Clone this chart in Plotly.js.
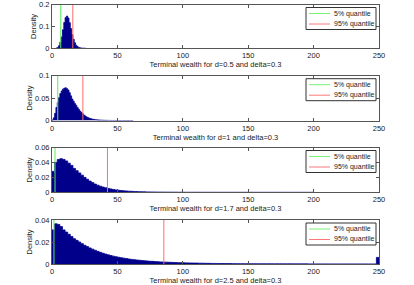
<!DOCTYPE html>
<html>
<head>
<meta charset="utf-8">
<script src="https://cdn.plot.ly/plotly-3.0.1.min.js"></script>
<style>html,body{margin:0;padding:0;background:#fff}#chart{width:414px;height:285px}</style>
</head>
<body>
<div id="chart"></div>
<script>
// ---- data ----
var xTitles = ["Terminal wealth for d=0.5 and delta=0.3","Terminal wealth for d=1 and delta=0.3","Terminal wealth for d=1.7 and delta=0.3","Terminal wealth for d=2.5 and delta=0.3"];
var legendLabels = ["5% quantile", "95% quantile"];
var xTicks = [0, 50, 100, 150, 200, 250];
var yTicks1 = [0, 0.1, 0.2];
var yTicks2 = [0, 0.05, 0.1];
var yTicks3 = [0, 0.02, 0.04, 0.06];
var yTicks4 = [0, 0.02, 0.04];

var q05 = [6.7, 4.4, 2.3, 1.5];
var q95 = [15.9, 23.6, 42.4, 85.5];

// histogram bins: first bin start and bin width
var binStart = [3, 0, 0, 0];
var binWidth = [1, 1, 2, 2];

var dens1 = [0.001,0.004,0.012,0.028,0.052,0.085,0.118,0.140,0.147,0.138,0.117,0.090,0.063,0.041,0.025,0.014,0.008,0.004,0.002,0.001,0.0006,0.0003,0.0001];

var dens2 = [0.001,0.006,0.016,0.029,0.040,0.051,0.060,0.066,0.070,0.072,0.073,0.071,0.068,0.062,0.055,0.048,0.043,0.038,0.034,0.029,0.025,0.021,0.018,0.015,0.012,0.010,0.008,0.0065,0.0052,0.0042,0.0034,0.0027,0.0022,0.0018,0.0014,0.0012,0.001,0.0008,0.00065,0.0005,0.0004,0.0003,0.00025,0.0002,0.00015,0.00012,0.0001,0.00008,0.00006,0.00005,0.00004,0.00004,0.00003,0.00003,0.00002,0.00002,0.00002,0.00001,0.00001,0.00001,0.00001,0.00001];

var dens3 = [0.028,0.040,0.044,0.045,0.044,0.042,0.039,0.036,0.032,0.029,0.026,0.023,0.020,0.0175,0.015,0.013,0.011,0.0095,0.0082,0.007,0.006,0.0052,0.0045,0.0038,0.0032,0.0027,0.0023,0.002,0.0017,0.0015,0.0013,0.0011,0.00095,0.0008,0.0007,0.0006,0.0005,0.00045,0.0004,0.00035,0.0003,0.00027,0.00024,0.0002,0.00018,0.00016,0.00014,0.00012,0.0001,0.00009,0.00008,0.00007,0.00006,0.00006,0.00005,0.00005,0.00004,0.00004,0.00003,0.00003,0.00003,0.00002,0.00002,0.00002,0.00002,0.00002,0.00001,0.00001,0.00001,0.00001,0.00001,0.00001,0.00001,0.00001,0.00001,0,0.00001,0,0.00001,0,0,0.00001,0,0,0.00001,0,0,0,0.00001,0,0,0,0,0.00001,0,0,0,0,0,0.00001];

var dens4 = [0.031,0.0365,0.036,0.034,0.031,0.029,0.027,0.025,0.023,0.0215,0.020,0.0185,0.017,0.0158,0.0146,0.0135,0.0125,0.0115,0.0106,0.0098,0.009,0.0083,0.0077,0.0071,0.0066,0.0061,0.0057,0.0053,0.0049,0.0045,0.0042,0.0039,0.0036,0.0034,0.0031,0.0029,0.0027,0.0025,0.0024,0.0022,0.0021,0.0019,0.0018,0.0017,0.0016,0.0015,0.0014,0.0013,0.0012,0.0012,0.0011,0.001,0.00095,0.0009,0.00085,0.0008,0.00075,0.0007,0.00065,0.0006,0.00057,0.00054,0.0005,0.00047,0.00044,0.00042,0.0004,0.00038,0.00036,0.00034,0.00032,0.0003,0.00029,0.00028,0.00027,0.00026,0.00025,0.00024,0.00023,0.00022,0.00021,0.0002,0.0002,0.00019,0.00018,0.00018,0.00017,0.00016,0.00016,0.00015,0.00015,0.00014,0.00014,0.00013,0.00013,0.00012,0.00012,0.00012,0.00011,0.00011,0.00011,0.0001,0.0001,0.0001,0.0001,0.00009,0.00009,0.00009,0.00009,0.00008,0.00008,0.00008,0.00008,0.00008,0.00007,0.00007,0.00007,0.00007,0.00007,0.00007,0.00006,0.00006,0.00006,0.00006,0.006];

var densities = [dens1, dens2, dens3, dens4];
var yTickSets = [yTicks1, yTicks2, yTicks3, yTicks4];

// ---- layout geometry (pixels) ----
var W = 414, H = 285;
var plotLeft = 52, plotRight = 379;
var tops = [4.5, 75.7, 147.5, 220];
var bottoms = [48.3, 120.5, 192.3, 264];

var FONT = "Liberation Sans, Arial, sans-serif";
var traces = [];
var layout = {
  width: W, height: H,
  margin: {l: 0, r: 0, t: 0, b: 0},
  paper_bgcolor: "#fff", plot_bgcolor: "#fff",
  font: {family: FONT, size: 7.5, color: "#222"},
  showlegend: false,
  shapes: [], annotations: []
};

function px2x(p) { return p / W; }
function py2y(p) { return 1 - p / H; }

for (var i = 0; i < 4; i++) {
  var n = i + 1;
  var xa = "x" + (n === 1 ? "" : n), ya = "y" + (n === 1 ? "" : n);
  var yTicks = yTickSets[i];
  var ymax = yTicks[yTicks.length - 1];
  var d = densities[i];
  // histogram drawn as a filled step outline: bin edges with matching densities
  var edges = [], steps = [];
  for (var k = 0; k <= d.length; k++) {
    edges.push(binStart[i] + binWidth[i] * k);
    steps.push(k < d.length ? d[k] : d[d.length - 1]);
  }
  edges.unshift(binStart[i]); steps.unshift(0);
  edges.push(edges[edges.length - 1]); steps.push(0);

  traces.push({
    type: "scatter", mode: "lines", x: edges, y: steps,
    line: {shape: "hv", color: "#00008b", width: 0.8},
    fill: "tozeroy", fillcolor: "#00008b",
    xaxis: xa, yaxis: ya, hoverinfo: "skip", showlegend: false
  });
  traces.push({
    type: "scatter", mode: "lines", x: [q05[i], q05[i]], y: [0, ymax],
    xaxis: xa, yaxis: ya, line: {color: "rgb(90,235,90)", width: 1},
    hoverinfo: "skip", showlegend: false
  });
  traces.push({
    type: "scatter", mode: "lines", x: [q95[i], q95[i]], y: [0, ymax],
    xaxis: xa, yaxis: ya, line: {color: "rgb(255,110,110)", width: 1},
    hoverinfo: "skip", showlegend: false
  });

  var axCommon = {
    showline: true, linecolor: "#555", linewidth: 1, mirror: "ticks",
    ticks: "inside", ticklen: 3, tickwidth: 1, tickcolor: "#555",
    showgrid: false, zeroline: false,
    tickfont: {family: FONT, size: 7.5, color: "#222"}
  };
  layout["xaxis" + (n === 1 ? "" : n)] = Object.assign({}, axCommon, {
    domain: [px2x(plotLeft), px2x(plotRight)], anchor: ya,
    range: [0, 250], tickvals: xTicks, ticktext: xTicks.map(String),
    title: {text: xTitles[i], font: {family: FONT, size: 7.5, color: "#222"}, standoff: 2}
  });
  layout["yaxis" + (n === 1 ? "" : n)] = Object.assign({}, axCommon, {
    domain: [py2y(bottoms[i]), py2y(tops[i])], anchor: xa,
    range: [0, ymax], tickvals: yTicks, ticktext: yTicks.map(String),
    title: {text: "Density", font: {family: FONT, size: 7.5, color: "#222"}, standoff: 1}
  });

  // custom legend box
  var t = tops[i];
  layout.shapes.push({type: "rect", xref: "paper", yref: "paper",
    x0: px2x(306), x1: px2x(376), y0: py2y(t + 3), y1: py2y(t + 25),
    line: {color: "#333", width: 1}, fillcolor: "#fff", layer: "above"});
  var lineCols = ["rgb(120,240,120)", "rgb(255,120,120)"];
  var lineYs = [t + 9, t + 19.5];
  for (var m = 0; m < 2; m++) {
    layout.shapes.push({type: "line", xref: "paper", yref: "paper",
      x0: px2x(309), x1: px2x(330), y0: py2y(lineYs[m]), y1: py2y(lineYs[m]),
      line: {color: lineCols[m], width: 1}, layer: "above"});
    layout.annotations.push({xref: "paper", yref: "paper", x: px2x(332), y: py2y(lineYs[m]),
      xanchor: "left", yanchor: "middle", showarrow: false, text: legendLabels[m],
      font: {family: FONT, size: 7, color: "#222"}});
  }
}

Plotly.newPlot("chart", traces, layout, {staticPlot: true, displayModeBar: false});
</script>
</body>
</html>
